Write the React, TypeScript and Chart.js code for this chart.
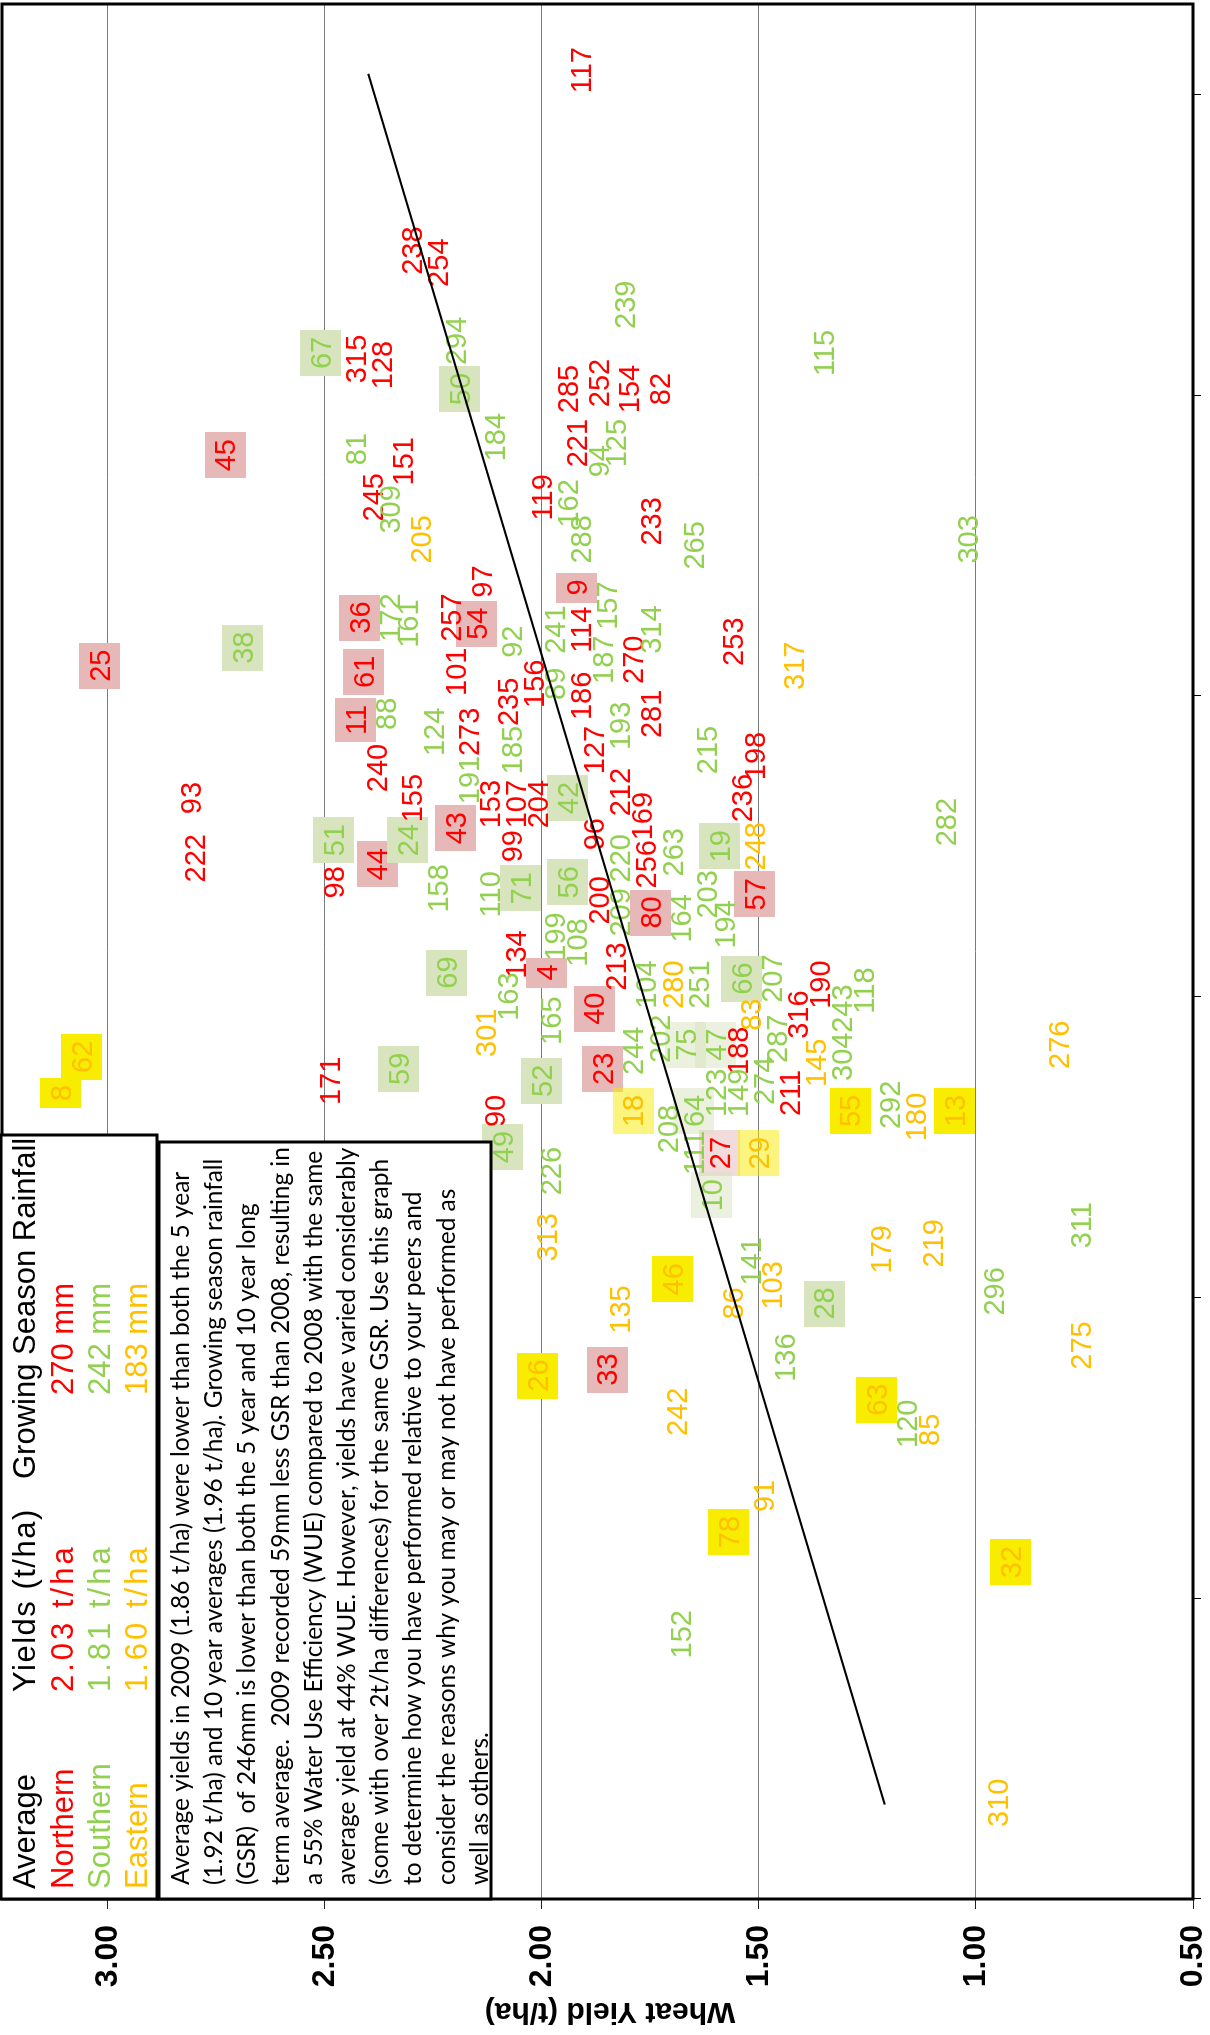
import React, { useEffect, useRef } from 'react';
import { Chart, registerables } from 'chart.js';

Chart.register(...registerables);

// ---------------- data ----------------
// x = growing season rainfall (mm), y = wheat yield (t/ha), label = farm number
const northernIds = [117, 238, 254, 315, 128, 285, 252, 154, 82, 221, 45, 151, 245, 119, 233, 97, 9, 36, 257, 54, 114, 253, 25, 61, 101, 270, 156, 235, 186, 281, 11, 273, 127, 198, 240, 155, 153, 107, 204, 212, 236, 93, 169, 43, 96, 99, 222, 44, 256, 98, 200, 80, 57, 134, 213, 4, 190, 40, 316, 188, 211, 23, 171, 90, 27, 33];
const northernYield = [1.91, 2.30, 2.24, 2.43, 2.37, 1.94, 1.87, 1.80, 1.73, 1.92, 2.73, 2.32, 2.39, 2.00, 1.75, 2.14, 1.92, 2.42, 2.21, 2.15, 1.91, 1.56, 3.02, 2.41, 2.20, 1.79, 2.02, 2.08, 1.91, 1.75, 2.43, 2.17, 1.88, 1.51, 2.38, 2.30, 2.12, 2.06, 2.01, 1.82, 1.54, 2.81, 1.77, 2.20, 1.88, 2.07, 2.80, 2.38, 1.76, 2.48, 1.87, 1.75, 1.51, 2.06, 1.83, 1.99, 1.36, 1.88, 1.41, 1.55, 1.43, 1.86, 2.49, 2.11, 1.59, 1.85];
const northernGsr = [404, 374, 372, 356, 355, 351, 352, 351, 351, 342, 340, 339, 333, 333, 329, 319, 318, 313, 313, 312, 311, 309, 305, 304, 304, 306, 302, 299, 300, 297, 296, 294, 291, 290, 288, 283, 282, 282, 282, 284, 283, 283, 280, 278, 277, 275, 273, 272, 272, 269, 266, 264, 267, 257, 255, 254, 252, 248, 247, 241, 234, 238, 236, 231, 224, 188];

const southernIds = [239, 294, 67, 115, 50, 184, 125, 94, 81, 309, 162, 288, 265, 303, 157, 172, 161, 241, 314, 92, 38, 187, 89, 88, 124, 193, 185, 215, 191, 42, 282, 24, 51, 263, 19, 220, 158, 110, 71, 56, 209, 203, 164, 194, 199, 108, 69, 104, 251, 66, 207, 118, 163, 243, 165, 202, 75, 47, 287, 304, 244, 59, 123, 149, 274, 52, 292, 208, 64, 49, 111, 226, 10, 311, 141, 296, 28, 136, 120, 152];
const southernYield = [1.81, 2.20, 2.51, 1.35, 2.19, 2.11, 1.83, 1.87, 2.43, 2.35, 1.94, 1.91, 1.65, 1.02, 1.85, 2.35, 2.31, 1.97, 1.75, 2.07, 2.69, 1.86, 1.97, 2.36, 2.25, 1.82, 2.07, 1.62, 2.17, 1.94, 1.07, 2.31, 2.48, 1.70, 1.59, 1.82, 2.24, 2.12, 2.05, 1.94, 1.82, 1.62, 1.68, 1.58, 1.97, 1.92, 2.22, 1.76, 1.64, 1.54, 1.47, 1.26, 2.08, 1.31, 1.98, 1.73, 1.67, 1.60, 1.46, 1.31, 1.79, 2.33, 1.60, 1.55, 1.49, 2.00, 1.20, 1.71, 1.65, 2.09, 1.65, 1.98, 1.61, 0.76, 1.52, 0.96, 1.35, 1.44, 1.16, 1.68];
const southernGsr = [365, 359, 357, 357, 351, 343, 342, 339, 341, 331, 332, 326, 325, 326, 315, 313, 312, 311, 311, 309, 308, 306, 302, 297, 294, 295, 291, 291, 286, 283, 279, 276, 276, 274, 275, 273, 268, 267, 268, 269, 264, 267, 263, 262, 260, 259, 254, 252, 252, 253, 253, 251, 250, 248, 246, 243, 242, 242, 243, 240, 241, 238, 234, 234, 236, 236, 232, 228, 231, 225, 224, 221, 217, 212, 206, 201, 199, 190, 179, 144];

const easternIds = [205, 317, 248, 280, 83, 301, 145, 276, 8, 62, 18, 55, 180, 13, 29, 313, 219, 179, 46, 103, 86, 135, 275, 26, 63, 242, 85, 91, 78, 32, 310];
const easternYield = [2.28, 1.42, 1.51, 1.70, 1.52, 2.13, 1.37, 0.81, 3.11, 3.06, 1.79, 1.29, 1.14, 1.05, 1.50, 1.99, 1.10, 1.22, 1.70, 1.47, 1.56, 1.82, 0.76, 2.01, 1.23, 1.69, 1.11, 1.49, 1.57, 0.92, 0.95];
const easternGsr = [326, 305, 275, 252, 247, 244, 239, 242, 234, 240, 231, 231, 230, 231, 224, 210, 209, 208, 203, 202, 199, 198, 192, 187, 183, 181, 178, 167, 161, 156, 116];

// farms in the highlighted peer group carry a coloured box
const boxedMaxId = 80;
const lightBoxIds = [75, 47, 10, 64, 18, 29, 27];

// trend line end points
const trendGsr = [115.7, 403.4];
const trendYield = [1.21, 2.40];

const yieldMin = 0.5;
const yieldMax = 3.244;
const yieldStep = 0.5;
const gsrMin = 100;
const gsrMax = 415;
const gsrStep = 50;

const axisTitle = 'Wheat Yield (t/ha)';
const legendHeader = ['Average', 'Yields (t/ha)', 'Growing Season Rainfall'];
const regionNames = ['Northern', 'Southern', 'Eastern'];
const regionYieldText = ['2.03 t/ha', '1.81 t/ha', '1.60 t/ha'];
const regionRainText = ['270 mm', '242 mm', '183 mm'];
const noteLines = [
  'Average yields in 2009 (1.86 t/ha) were lower than both the 5 year',
  '(1.92 t/ha) and 10 year averages (1.96 t/ha). Growing season rainfall',
  '(GSR)  of 246mm is lower than both the 5 year and 10 year long',
  'term average.  2009 recorded 59mm less GSR than 2008, resulting in',
  'a 55% Water Use Efficiency (WUE) compared to 2008 with the same',
  'average yield at 44% WUE. However, yields have varied considerably',
  '(some with over 2t/ha differences) for the same GSR. Use this graph',
  'to determine how you have performed relative to your peers and',
  'consider the reasons why you may or may not have performed as',
  'well as others.',
];

// ---------------- styling ----------------
const CANVAS_W = 2035;
const CANVAS_H = 1210;
const LABEL_FONT = 29;
const ARIAL = '"Liberation Sans", Arial, sans-serif';
const REGION_TEXT = ['#FF0000', '#92D050', '#FFC000'];
const REGION_BOX = ['#E6B9B8', '#D7E4BD', '#F8EC00'];

const regions = [
  { ids: northernIds, yields: northernYield, gsr: northernGsr },
  { ids: southernIds, yields: southernYield, gsr: southernGsr },
  { ids: easternIds, yields: easternYield, gsr: easternGsr },
];

const farmLabels = {
  id: 'farmLabels',
  beforeDatasetsDraw(chart: any) {
    const ctx = chart.ctx;
    const a = chart.chartArea;
    ctx.save();
    ctx.beginPath();
    ctx.rect(a.left, a.top, a.right - a.left, a.bottom - a.top);
    ctx.clip();
    ctx.font = `${LABEL_FONT}px ${ARIAL}`;
    const items: any[] = [];
    regions.forEach((r, di) => {
      const meta = chart.getDatasetMeta(di);
      r.ids.forEach((id, j) => {
        const el = meta.data[j];
        if (el) items.push({ x: el.x, y: el.y, id, di });
      });
    });
    const h = 41;
    items.forEach((it) => {
      if (it.id > boxedMaxId) return;
      const w = ctx.measureText(String(it.id)).width + 14;
      ctx.globalAlpha = lightBoxIds.includes(it.id) ? 0.5 : 1;
      ctx.fillStyle = REGION_BOX[it.di];
      ctx.fillRect(Math.round(it.x - w / 2), Math.round(it.y - h / 2), Math.round(w), h);
    });
    ctx.globalAlpha = 1;
    ctx.textAlign = 'center';
    ctx.textBaseline = 'alphabetic';
    items.forEach((it) => {
      ctx.fillStyle = REGION_TEXT[it.di];
      ctx.fillText(String(it.id), it.x, it.y + LABEL_FONT * 0.358);
    });
    ctx.restore();
  },
};

const overlay = {
  id: 'overlay',
  afterDraw(chart: any) {
    const ctx = chart.ctx;
    const a = chart.chartArea;
    ctx.save();
    // plot frame
    ctx.strokeStyle = '#000';
    ctx.lineWidth = 3;
    ctx.strokeRect(a.left, a.top, a.right - a.left, a.bottom - a.top);

    // legend table box
    const bx = a.left;
    ctx.fillStyle = '#fff';
    ctx.fillRect(bx, 1, 900 - bx, 156);
    ctx.strokeRect(bx, 1, 900 - bx, 156);
    // note box
    ctx.fillRect(bx, 159, 893 - bx, 332);
    ctx.strokeRect(bx, 159, 893 - bx, 332);

    // legend text
    ctx.textAlign = 'left';
    ctx.textBaseline = 'alphabetic';
    ctx.font = `31px ${ARIAL}`;
    const rows = [35, 72.5, 110, 147];
    ctx.fillStyle = '#000';
    ctx.fillText(legendHeader[0], 146, rows[0]);
    ctx.fillText(legendHeader[2], 556, rows[0]);
    ctx.letterSpacing = '1.5px';
    ctx.fillText(legendHeader[1], 343, rows[0]);
    regionNames.forEach((n, i) => {
      ctx.fillStyle = REGION_TEXT[i];
      ctx.letterSpacing = '0px';
      ctx.fillText(n, 146, rows[i + 1]);
      ctx.fillText(regionRainText[i], 640, rows[i + 1]);
      ctx.letterSpacing = '3px';
      ctx.fillText(regionYieldText[i], 343, rows[i + 1]);
    });
    ctx.letterSpacing = '0px';

    // note paragraph
    const fam = 'Lato, "Open Sans", sans-serif';
    ctx.font = `100px ${fam}`;
    const maxW = Math.max(...noteLines.map((l) => ctx.measureText(l).width));
    const size = (100 * 738) / maxW;
    ctx.font = `${size}px ${fam}`;
    ctx.fillStyle = '#000';
    noteLines.forEach((l, i) => ctx.fillText(l, 150, 189 + i * 33.2));

    // y-axis title
    ctx.save();
    ctx.translate(32, 610);
    ctx.rotate(-Math.PI / 2);
    ctx.font = `bold 30px ${ARIAL}`;
    ctx.textAlign = 'center';
    ctx.fillStyle = '#000';
    ctx.fillText(axisTitle, 0, 0);
    ctx.restore();

    ctx.restore();
  },
};

export default function App() {
  const ref = useRef<HTMLCanvasElement | null>(null);

  useEffect(() => {
    document.documentElement.style.overflow = 'hidden';
    const canvas = ref.current;
    if (!canvas) return;
    const datasets: any[] = regions.map((r, i) => ({
      type: 'scatter',
      label: regionNames[i],
      data: r.ids.map((_, j) => ({ x: r.gsr[j], y: r.yields[j] })),
      pointRadius: 0,
      pointHoverRadius: 0,
      showLine: false,
    }));
    datasets.push({
      type: 'scatter',
      label: 'Trend',
      data: trendGsr.map((g, i) => ({ x: g, y: trendYield[i] })),
      showLine: true,
      borderColor: '#000',
      borderWidth: 2,
      pointRadius: 0,
      fill: false,
    });

    const chart = new Chart(canvas, {
      type: 'scatter',
      data: { datasets },
      options: {
        animation: false,
        responsive: false,
        events: [],
        layout: { padding: { left: 0, right: 4, top: 2, bottom: 0 } },
        plugins: { legend: { display: false }, tooltip: { enabled: false } },
        scales: {
          x: {
            type: 'linear',
            position: 'bottom',
            min: gsrMin,
            max: gsrMax,
            ticks: { display: false, stepSize: gsrStep, includeBounds: false },
            grid: { drawOnChartArea: false, drawTicks: true, tickLength: 8, tickColor: '#000', lineWidth: 1 },
            border: { display: false },
            afterFit: (s: any) => {
              s.height = 17;
              s.paddingLeft = 0;
              s.paddingRight = 0;
            },
          },
          y: {
            type: 'linear',
            position: 'left',
            min: yieldMin,
            max: yieldMax,
            ticks: {
              stepSize: yieldStep,
              includeBounds: false,
              autoSkip: false,
              padding: 16,
              color: '#000',
              font: { family: ARIAL, size: 32, weight: 'bold' },
              callback: (v: any) => Number(v).toFixed(2),
            },
            grid: { color: '#7a7a7a', lineWidth: 1, tickLength: 10, tickColor: '#222' },
            border: { display: false },
            afterFit: (s: any) => {
              s.width = 136;
              s.paddingTop = 0;
              s.paddingBottom = 0;
            },
          },
        },
      } as any,
      plugins: [farmLabels, overlay],
    });
    return () => chart.destroy();
  }, []);

  return (
    <div
      style={{
        position: 'absolute',
        left: 0,
        top: 0,
        width: CANVAS_W,
        height: CANVAS_H,
        background: '#fff',
        transformOrigin: '0 0',
        transform: `translateY(${CANVAS_W}px) rotate(-90deg)`,
      }}
    >
      <canvas ref={ref} width={CANVAS_W} height={CANVAS_H} style={{ display: 'block' }} />
    </div>
  );
}
